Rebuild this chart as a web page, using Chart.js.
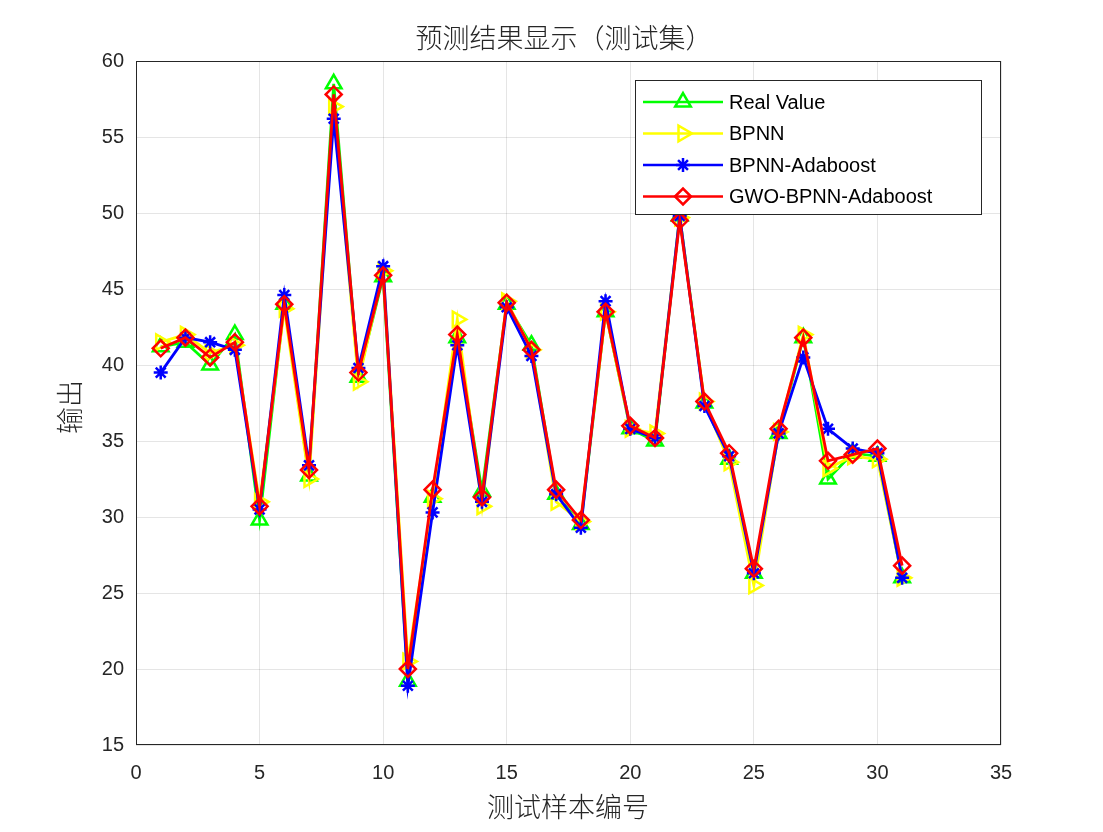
<!DOCTYPE html>
<html><head><meta charset="utf-8">
<script src="https://cdn.jsdelivr.net/npm/chart.js@4/dist/chart.umd.min.js"></script>
<style>html,body{margin:0;padding:0;background:#fff}#w{width:1103px;height:832px}</style>
</head><body><div id="w"><canvas id="c"></canvas></div>
<script>
const categories=[1,2,3,4,5,6,7,8,9,10,11,12,13,14,15,16,17,18,19,20,21,22,23,24,25,26,27,28,29,30,31];
const realValue=[41.2,41.5,40.0,42.0,29.8,44.0,32.7,58.5,39.2,45.8,19.2,31.3,41.8,31.7,44.0,41.3,31.5,29.5,43.5,35.8,35.0,49.8,37.5,33.8,26.3,35.5,41.8,32.5,34.2,34.0,26.0];
const bpnn=[41.5,42.0,40.8,41.3,31.0,43.7,32.5,57.0,38.9,46.2,20.5,31.2,43.0,30.7,44.2,41.0,31.0,29.7,43.5,35.8,35.5,49.7,37.6,33.6,25.5,35.6,42.0,33.2,34.0,33.8,26.0];
const bpnnAda=[39.5,41.8,41.5,41.0,30.5,44.6,33.4,56.2,39.8,46.5,18.9,30.3,41.3,31.0,43.8,40.6,31.5,29.3,44.2,35.8,35.2,49.8,37.3,34.0,26.3,35.5,40.5,35.8,34.5,34.2,26.0];
const gwo=[41.1,41.8,40.5,41.5,30.7,44.0,33.1,57.8,39.5,45.9,20.0,31.8,42.0,31.3,44.1,41.0,31.8,29.8,43.5,36.0,35.2,49.5,37.6,34.2,26.6,35.8,41.8,33.7,34.1,34.5,26.8];
const xTicks=[0,5,10,15,20,25,30,35];
const yTicks=[15,20,25,30,35,40,45,50,55,60];
const F='"Liberation Sans", Arial, sans-serif';
const CJK='"Noto Sans CJK SC", sans-serif';
const series=[
 {label:'Real Value',data:realValue,color:'#00ff00',style:'triangle',rot:0,r:9},
 {label:'BPNN',data:bpnn,color:'#ffff00',style:'triangle',rot:90,r:9},
 {label:'BPNN-Adaboost',data:bpnnAda,color:'#0000ff',style:'star',rot:0,r:7},
 {label:'GWO-BPNN-Adaboost',data:gwo,color:'#ff0000',style:'rectRot',rot:0,r:8}
];
const datasets=series.map((s,i)=>({label:s.label,order:3-i,data:categories.map((x,j)=>({x:x,y:s.data[j]})),borderColor:s.color,backgroundColor:'rgba(0,0,0,0)',borderWidth:2.8,pointStyle:s.style,rotation:s.rot,pointRadius:s.r,pointBorderWidth:2.5,pointBorderColor:s.color,pointBackgroundColor:'rgba(0,0,0,0)',tension:0}));
const deco={id:'deco',afterDraw(ch){
 const c=ch.ctx,a=ch.chartArea;
 c.save();
 c.strokeStyle='#262626';c.lineWidth=1;c.strokeRect(a.left+0.5,a.top+0.5,a.right-a.left-1,a.bottom-a.top-1);
 c.fillStyle='#262626';c.textAlign='center';c.textBaseline='middle';
 c.font='300 27px '+CJK;c.fillText('预测结果显示（测试集）',564,38);
 c.fillText('测试样本编号',568,807);
 c.save();c.translate(70,407);c.rotate(-Math.PI/2);c.fillText('输出',0,0);c.restore();
 const lx=635,ly=80,lw=346,lh=134;
 c.fillStyle='#fff';c.fillRect(lx,ly,lw,lh);c.strokeStyle='#262626';c.strokeRect(lx+0.5,ly+0.5,lw,lh);
 c.font='20px '+F;c.textAlign='left';
 series.forEach((s,i)=>{const y=ly+22+i*31.5;
  c.strokeStyle=s.color;c.lineWidth=2.5;c.beginPath();c.moveTo(lx+8,y);c.lineTo(lx+88,y);c.stroke();
  c.fillStyle='rgba(0,0,0,0)';c.strokeStyle=s.color;c.lineWidth=2.5;
  Chart.helpers.drawPoint(c,{pointStyle:s.style,rotation:s.rot,radius:s.r,borderWidth:2.5},lx+48,y);
  c.fillStyle='#000';c.fillText(s.label,lx+94,y+1);});
 c.restore();}};
new Chart(document.getElementById('c'),{type:'line',data:{datasets},plugins:[deco],
options:{responsive:true,maintainAspectRatio:false,animation:false,
layout:{padding:{top:61,right:102,left:0,bottom:0}},
plugins:{legend:{display:false},tooltip:{enabled:false}},
scales:{
 x:{type:'linear',min:0,max:35,afterBuildTicks(s){s.ticks=xTicks.map(v=>({value:v}));},afterFit(s){s.height=87;},
  grid:{color:'rgba(0,0,0,0.1)',drawTicks:false},border:{display:false},
  ticks:{color:'#262626',font:{size:20,family:F},padding:16,maxRotation:0}},
 y:{min:15,max:60,afterBuildTicks(s){s.ticks=yTicks.map(v=>({value:v}));},afterFit(s){s.width=136;},
  grid:{color:'rgba(0,0,0,0.1)',drawTicks:false},border:{display:false},
  ticks:{color:'#262626',font:{size:20,family:F},padding:12}}
}}});
</script></body></html>
